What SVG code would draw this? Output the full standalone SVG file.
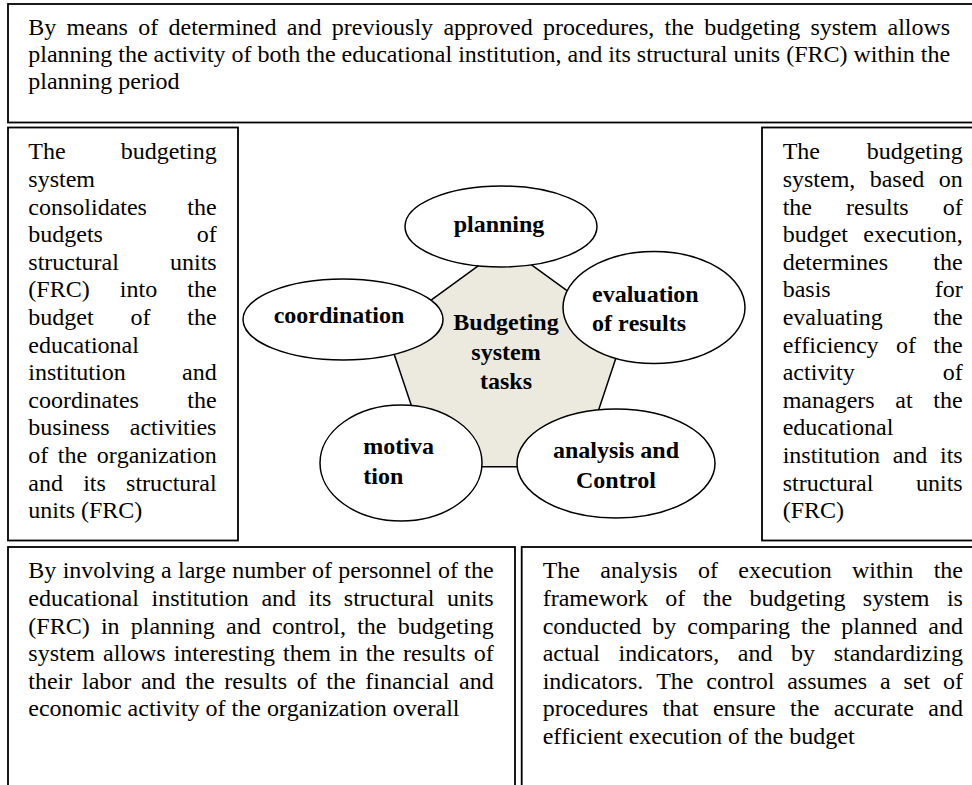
<svg xmlns="http://www.w3.org/2000/svg" width="972" height="785" viewBox="0 0 972 785">
<style>
.t{font-family:"Liberation Serif","Times New Roman",serif;font-size:24px;fill:#000;font-kerning:none;font-variant-ligatures:none;}
.b{font-weight:bold;}
.box{fill:#fff;stroke:#000;stroke-width:1.8;}
.ell{fill:#fff;stroke:#000;stroke-width:1.5;}
.pent{fill:#ECE9DF;stroke:#000;stroke-width:1.5;}
.m{text-anchor:middle;}
</style>
<rect width="972" height="785" fill="#fff"/>

<g id="top-box">
<rect class="box" x="8" y="4" width="975" height="118.5"/>
<text class="t" x="28.3" y="35" style="word-spacing:4.31px">By means of determined and previously approved procedures, the budgeting system allows</text>
<text class="t" x="28.3" y="62">planning the activity of both the educational institution, and its structural units (FRC) within the</text>
<text class="t" x="28.3" y="89">planning period</text>
</g>

<g id="left-box">
<rect class="box" x="8" y="127.5" width="230" height="413"/>
<text class="t" x="28.3" y="159.3" style="word-spacing:49.08px">The budgeting</text>
<text class="t" x="28.3" y="186.9">system</text>
<text class="t" x="28.3" y="214.5" style="word-spacing:34.42px">consolidates the</text>
<text class="t" x="28.3" y="242.1" style="word-spacing:87.74px">budgets of</text>
<text class="t" x="28.3" y="269.7" style="word-spacing:45.07px">structural units</text>
<text class="t" x="28.3" y="297.3" style="word-spacing:24.19px">(FRC) into the</text>
<text class="t" x="28.3" y="324.9" style="word-spacing:30.88px">budget of the</text>
<text class="t" x="28.3" y="352.5">educational</text>
<text class="t" x="28.3" y="380.1" style="word-spacing:50.42px">institution and</text>
<text class="t" x="28.3" y="407.7" style="word-spacing:42.43px">coordinates the</text>
<text class="t" x="28.3" y="435.3" style="word-spacing:14.14px">business activities</text>
<text class="t" x="28.3" y="462.9" style="word-spacing:3.54px">of the organization</text>
<text class="t" x="28.3" y="490.5" style="word-spacing:14.21px">and its structural</text>
<text class="t" x="28.3" y="518.1">units (FRC)</text>
</g>

<g id="right-box">
<rect class="box" x="762" y="127.5" width="225" height="413"/>
<text class="t" x="782.7" y="159.3" style="word-spacing:40.68px">The budgeting</text>
<text class="t" x="782.7" y="186.9" style="word-spacing:8.34px">system, based on</text>
<text class="t" x="782.7" y="214.5" style="word-spacing:28.01px">the results of</text>
<text class="t" x="782.7" y="242.1" style="word-spacing:9.36px">budget execution,</text>
<text class="t" x="782.7" y="269.7" style="word-spacing:39.36px">determines the</text>
<text class="t" x="782.7" y="297.3" style="word-spacing:98.02px">basis for</text>
<text class="t" x="782.7" y="324.9" style="word-spacing:44.69px">evaluating the</text>
<text class="t" x="782.7" y="352.5" style="word-spacing:11.36px">efficiency of the</text>
<text class="t" x="782.7" y="380.1" style="word-spacing:82.01px">activity of</text>
<text class="t" x="782.7" y="407.7" style="word-spacing:14.69px">managers at the</text>
<text class="t" x="782.7" y="435.3">educational</text>
<text class="t" x="782.7" y="462.9" style="word-spacing:6.67px">institution and its</text>
<text class="t" x="782.7" y="490.5" style="word-spacing:36.67px">structural units</text>
<text class="t" x="782.7" y="518.1">(FRC)</text>
</g>

<g id="bottom-left-box">
<rect class="box" x="8" y="547" width="507" height="260"/>
<text class="t" x="28.3" y="578.3" style="word-spacing:0.35px">By involving a large number of personnel of the</text>
<text class="t" x="28.3" y="605.9" style="word-spacing:6.56px">educational institution and its structural units</text>
<text class="t" x="28.3" y="633.5" style="word-spacing:5.24px">(FRC) in planning and control, the budgeting</text>
<text class="t" x="28.3" y="661.1" style="word-spacing:2.01px">system allows interesting them in the results of</text>
<text class="t" x="28.3" y="688.7" style="word-spacing:3.69px">their labor and the results of the financial and</text>
<text class="t" x="28.3" y="716.3">economic activity of the organization overall</text>
</g>

<g id="bottom-right-box">
<rect class="box" x="521.7" y="547" width="470" height="260"/>
<text class="t" x="542.7" y="578.3" style="word-spacing:14.34px">The analysis of execution within the</text>
<text class="t" x="542.7" y="605.9" style="word-spacing:11.40px">framework of the budgeting system is</text>
<text class="t" x="542.7" y="633.5" style="word-spacing:5.01px">conducted by comparing the planned and</text>
<text class="t" x="542.7" y="661.1" style="word-spacing:12.59px">actual indicators, and by standardizing</text>
<text class="t" x="542.7" y="688.7" style="word-spacing:6.84px">indicators. The control assumes a set of</text>
<text class="t" x="542.7" y="716.3" style="word-spacing:8.49px">procedures that ensure the accurate and</text>
<text class="t" x="542.7" y="743.9">efficient execution of the budget</text>
</g>

<g id="center-tasks">
<polygon class="pent" points="505.5,246 624.5,332.3 579.7,466.7 431.9,466.7 386.8,332.3"/>
</g>

<g id="planning">
<ellipse class="ell" cx="501" cy="226.5" rx="96" ry="40.5"/>
<text class="t b m" x="499" y="231.7">planning</text>
</g>

<g id="coordination">
<ellipse class="ell" cx="343" cy="319.5" rx="100" ry="40.5"/>
<text class="t b m" x="339" y="323">coordination</text>
</g>

<g id="evaluation">
<ellipse class="ell" cx="654" cy="307.5" rx="91" ry="56"/>
<text class="t b" x="592" y="301.5">evaluation</text>
<text class="t b" x="592" y="330.5">of results</text>
</g>

<g id="motivation">
<ellipse class="ell" cx="401" cy="463" rx="81" ry="58"/>
<text class="t b" x="363.3" y="454">motiva</text>
<text class="t b" x="363.3" y="483.5">tion</text>
</g>

<g id="analysis-control">
<ellipse class="ell" cx="616" cy="463.5" rx="99" ry="54.5"/>
<text class="t b m" x="616" y="458.3">analysis and</text>
<text class="t b m" x="616" y="488.3">Control</text>
</g>

<g id="center-label">
<text class="t b m" x="506" y="330">Budgeting</text>
<text class="t b m" x="506" y="359.5">system</text>
<text class="t b m" x="506" y="389">tasks</text>
</g>
</svg>
